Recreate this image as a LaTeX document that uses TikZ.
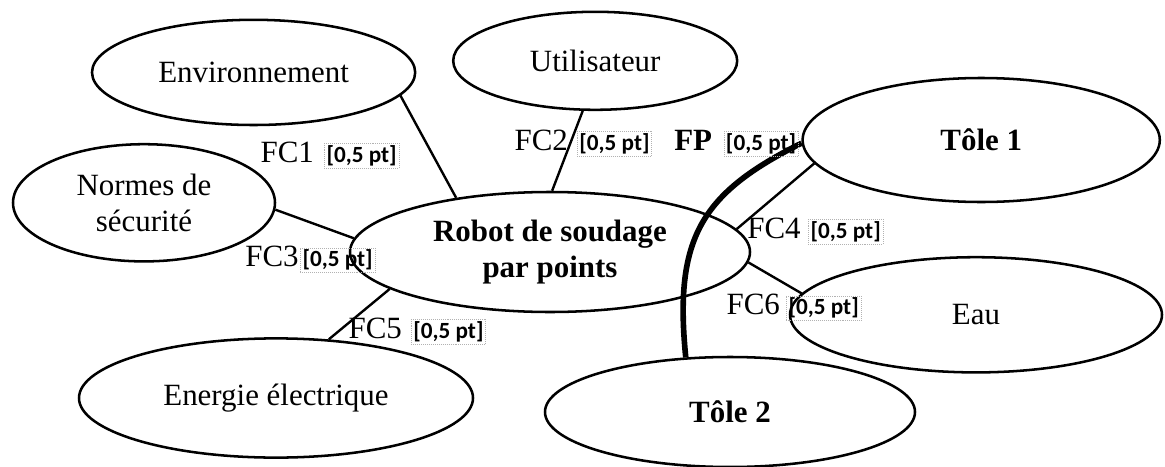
\documentclass[tikz,border=0pt]{standalone}
\usepackage{fontspec}
\setmainfont{Liberation Serif}
\newfontfamily\ptfont{Carlito}
\usepackage{tikz}
\usetikzlibrary{shapes.geometric}
\usetikzlibrary{positioning}

\begin{document}
\begin{tikzpicture}[
    ent/.style={ellipse,draw,line width=1.8pt,inner sep=0pt,align=center,font=\fontsize{22}{26}\selectfont},
    entb/.style={ent,font=\fontsize{22}{25}\selectfont\bfseries},
    link/.style={line width=1.7pt},
    fc/.style={inner sep=0pt,font=\fontsize{22}{26}\selectfont},
    ptbox/.style={draw=gray!60,densely dotted,inner sep=1.5pt,font=\ptfont\bfseries\fontsize{16.5}{19}\selectfont}]
    \useasboundingbox (0,0) rectangle (29.125,11.65);
    \node[ent,minimum width=8.08cm,minimum height=2.63cm] (env) at (6.34,9.84) {Environnement};
    \node[ent,minimum width=7.1cm,minimum height=2.45cm] (util) at (14.88,10.13) {Utilisateur};
    \node[entb,minimum width=8.93cm,minimum height=3.1cm] (tole1) at (24.53,8.15) {Tôle 1};
    \node[ent,minimum width=6.55cm,minimum height=2.93cm] (normes) at (3.6,6.58) {Normes de\\sécurité};
    \node[entb,minimum width=10cm,minimum height=3cm] (robot) at (13.75,5.35) {Robot de soudage\\par points};
    \node[ent,minimum width=9.85cm,minimum height=2.98cm] (energie) at (6.9,1.7) {Energie électrique};
    \node[ent,minimum width=9.3cm,minimum height=2.88cm] (eau) at (24.4,3.78) {Eau};
    \node[entb,minimum width=9.25cm,minimum height=2.75cm] (tole2) at (18.25,1.35) {Tôle 2};
    \draw[link] (env.-9) -- (robot.150);
    \draw[link] (util.-104) -- (robot.88);
    \draw[link] (normes.-3) -- (robot.176.5);
    \draw[link] (tole1.188.8) -- (robot.7.8);
    \draw[link] (energie.48.7) -- (robot.193);
    \draw[link] (robot.-3.8) -- (eau.173);
    \draw[line width=4pt] (tole1.181) .. controls +(-2.5,-1.25) and +(-0.3,3) .. (tole2.129.3);
    \node[fc] (fc1) at (7.18,7.85) {FC1};
    \node[ptbox,base right=0.25cm of fc1] (pt1) {[0,5 pt]};
    \node[fc] (fc2) at (13.53,8.15) {FC2};
    \node[ptbox,base right=0.22cm of fc2] (pt2) {[0,5 pt]};
    \node[fc,font=\fontsize{22}{26}\selectfont\bfseries] (fp) at (17.33,8.15) {FP};
    \node[ptbox,base right=0.28cm of fp] (ptp) {[0,5 pt]};
    \node[fc] (fc3) at (6.8,5.23) {FC3};
    \node[ptbox,base right=0.03cm of fc3] (pt3) {[0,5 pt]};
    \node[fc] (fc4) at (19.35,5.95) {FC4};
    \node[ptbox,base right=0.18cm of fc4] (pt4) {[0,5 pt]};
    \node[fc] (fc5) at (9.38,3.45) {FC5};
    \node[ptbox,base right=0.22cm of fc5] (pt5) {[0,5 pt]};
    \node[fc] (fc6) at (18.83,4.03) {FC6};
    \node[ptbox,base right=0.15cm of fc6] (pt6) {[0,5 pt]};
\end{tikzpicture}
\end{document}
